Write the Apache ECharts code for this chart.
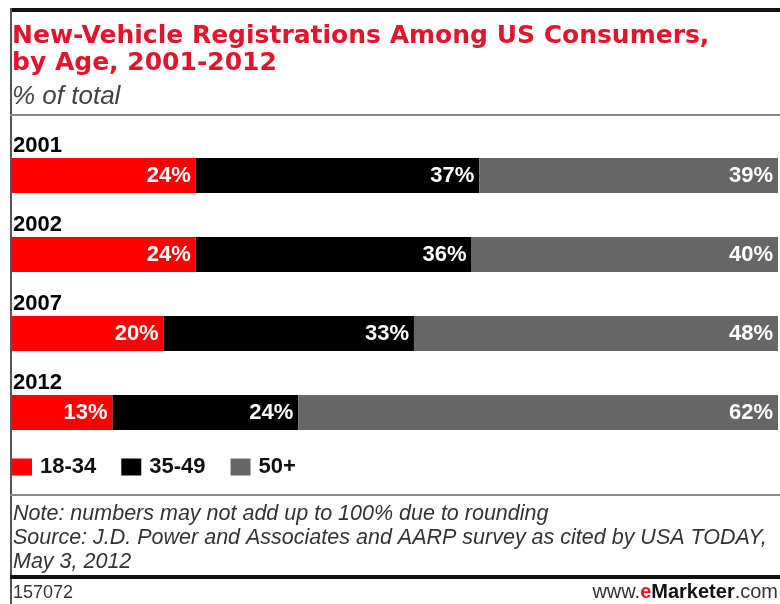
<!DOCTYPE html>
<html>
<head>
<meta charset="utf-8">
<script src="https://cdn.jsdelivr.net/npm/echarts@6/dist/echarts.min.js"></script>
<style>
  html, body { margin: 0; padding: 0; background: #fff; }
  #chart { width: 780px; height: 604px; }
</style>
</head>
<body>
<div id="chart"></div>
<script>
var years = ['2001', '2002', '2007', '2012']
var ageGroups = ['18-34', '35-49', '50+']
var age18to34 = [24, 24, 20, 13]
var age35to49 = [37, 36, 33, 24]
var age50plus = [39, 40, 48, 62]
var colors = ['#ff0000', '#000000', '#666666']

var font = '"Liberation Sans", Arial, sans-serif'
var wideFont = '"DejaVu Sans", "Liberation Sans", sans-serif'

// each bar fills the full width, rounding means rows don't add up to exactly 100
var rows = [age18to34, age35to49, age50plus]
function share(serie, i) {
    var sum = age18to34[i] + age35to49[i] + age50plus[i]
    return serie[i] / sum * 100
}

var series = []
for (let s = 0; s < rows.length; s++) {
    var list = []
    for (let i = 0; i < years.length; i++) {
        list.push({ value: share(rows[s], i), raw: rows[s][i] })
    }
    series.push({
        name: ageGroups[s],
        type: 'bar',
        stack: 'total',
        barWidth: 35,
        itemStyle: { color: colors[s] },
        label: {
            show: true,
            position: 'insideRight',
            distance: 5,
            color: '#fff',
            fontFamily: font,
            fontWeight: 'bold',
            fontSize: 22,
            formatter: function (p) {
                return p.data.raw + '%'
            }
        },
        data: list
    })
}

var option = {
    animation: false,
    title: {
        text: 'New-Vehicle Registrations Among US Consumers,\nby Age, 2001-2012',
        subtext: '% of total',
        left: 12,
        top: 23,
        padding: 0,
        itemGap: 7,
        textStyle: {
            color: '#e3142b',
            fontFamily: wideFont,
            fontWeight: 'bold',
            fontSize: 25,
            lineHeight: 27
        },
        subtextStyle: {
            color: '#444',
            fontFamily: font,
            fontStyle: 'italic',
            fontSize: 26
        }
    },
    legend: {
        left: 12,
        top: 456,
        padding: 0,
        itemWidth: 20,
        itemHeight: 17,
        itemGap: 25,
        icon: 'rect',
        textStyle: {
            color: '#111',
            fontFamily: font,
            fontWeight: 'bold',
            fontSize: 22,
            padding: [0, 0, 0, 3]
        },
        data: ageGroups
    },
    grid: {
        left: 12,
        right: 2,
        top: 136,
        bottom: 152
    },
    xAxis: {
        type: 'value',
        min: 0,
        max: 100,
        show: false
    },
    yAxis: {
        type: 'category',
        inverse: true,
        data: years,
        axisLine: { show: false },
        axisTick: { show: false },
        axisLabel: {
            inside: true,
            margin: 1,
            align: 'left',
            verticalAlign: 'bottom',
            padding: [0, 0, 19, 0],
            color: '#000',
            fontFamily: font,
            fontWeight: 'bold',
            fontSize: 22
        }
    },
    graphic: [
        { type: 'rect', shape: { x: 10, y: 8, width: 770, height: 4 }, style: { fill: '#111' } },
        { type: 'rect', shape: { x: 10, y: 8, width: 2, height: 596 }, style: { fill: '#555' } },
        { type: 'rect', shape: { x: 10, y: 114, width: 770, height: 2 }, style: { fill: '#888' } },
        { type: 'rect', shape: { x: 10, y: 494, width: 770, height: 2 }, style: { fill: '#888' } },
        { type: 'rect', shape: { x: 10, y: 575, width: 770, height: 4 }, style: { fill: '#111' } },
        {
            type: 'text', left: 13, top: 502,
            style: {
                text: 'Note: numbers may not add up to 100% due to rounding\nSource: J.D. Power and Associates and AARP survey as cited by USA TODAY,\nMay 3, 2012',
                fill: '#333',
                font: 'italic 21.5px ' + font,
                lineHeight: 24
            }
        },
        {
            type: 'text', left: 13, top: 584,
            style: { text: '157072', fill: '#333', font: '18px ' + font }
        },
        {
            type: 'text', right: 2, top: 582,
            style: {
                text: '{a|www.}{b|e}{c|Marketer}{a|.com}',
                rich: {
                    a: { fill: '#333', font: '20px ' + font },
                    b: { fill: '#e3142b', font: 'bold 20px ' + font },
                    c: { fill: '#111', font: 'bold 20px ' + font }
                }
            }
        }
    ],
    series: series
}

var myChart = echarts.init(document.getElementById('chart'))
myChart.setOption(option)
</script>
</body>
</html>
